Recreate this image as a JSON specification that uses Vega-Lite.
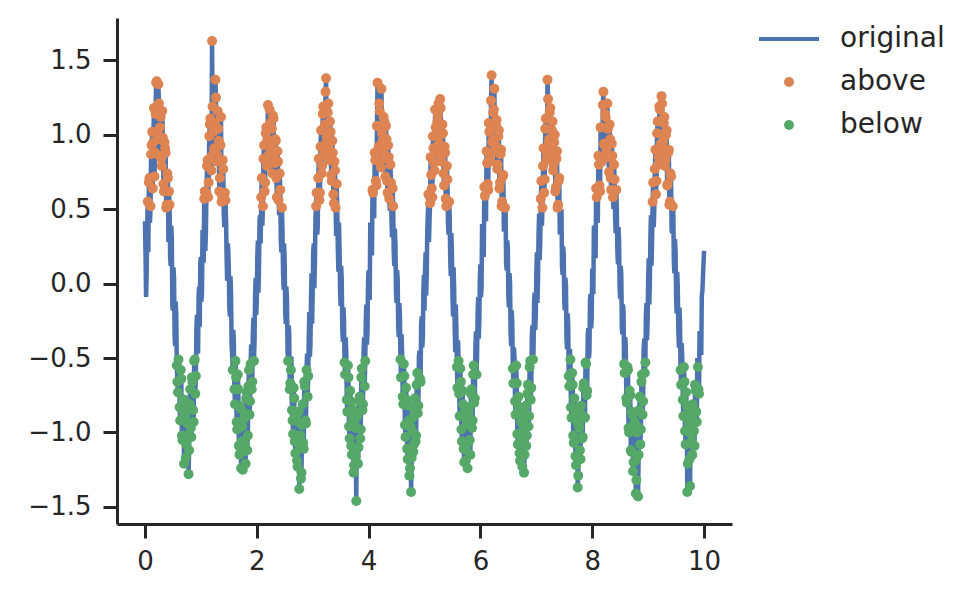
{
  "$schema": "https://vega.github.io/schema/vega-lite/v6.json",
  "width": 615,
  "height": 506,
  "autosize": "none",
  "padding": {"left": 117, "top": 18, "right": 243, "bottom": 74},
  "background": "white",
  "data": {"values": [
    {"x":0,"y":0.42},{"x":0.02,"y":-0.09},{"x":0.04,"y":0.38},{"x":0.06,"y":0.21},{"x":0.08,"y":0.71},{"x":0.1,"y":0.52},{"x":0.12,"y":0.93},{"x":0.14,"y":0.64},{"x":0.16,"y":1.18},{"x":0.18,"y":0.88},
    {"x":0.2,"y":1.35},{"x":0.22,"y":1.02},{"x":0.24,"y":1.34},{"x":0.26,"y":0.86},{"x":0.28,"y":1.12},{"x":0.3,"y":0.79},{"x":0.32,"y":0.98},{"x":0.34,"y":0.62},{"x":0.36,"y":0.91},{"x":0.38,"y":0.51},
    {"x":0.4,"y":0.74},{"x":0.42,"y":0.28},{"x":0.44,"y":0.53},{"x":0.46,"y":0.12},{"x":0.48,"y":0.31},{"x":0.5,"y":-0.18},{"x":0.52,"y":0.04},{"x":0.54,"y":-0.42},{"x":0.56,"y":-0.21},{"x":0.58,"y":-0.66},
    {"x":0.6,"y":-0.51},{"x":0.62,"y":-0.83},{"x":0.64,"y":-0.58},{"x":0.66,"y":-1.02},{"x":0.68,"y":-0.78},{"x":0.7,"y":-1.21},{"x":0.72,"y":-0.89},{"x":0.74,"y":-1.08},{"x":0.76,"y":-0.94},{"x":0.78,"y":-1.28},
    {"x":0.8,"y":-0.81},{"x":0.82,"y":-0.97},{"x":0.84,"y":-0.63},{"x":0.86,"y":-0.85},{"x":0.88,"y":-0.52},{"x":0.9,"y":-0.74},{"x":0.92,"y":-0.31},{"x":0.94,"y":-0.45},{"x":0.96,"y":-0.08},{"x":0.98,"y":-0.29},
    {"x":1,"y":0.18},{"x":1.02,"y":-0.05},{"x":1.04,"y":0.31},{"x":1.06,"y":0.57},{"x":1.08,"y":0.22},{"x":1.1,"y":0.61},{"x":1.12,"y":0.83},{"x":1.14,"y":0.68},{"x":1.16,"y":1.07},{"x":1.18,"y":0.85},
    {"x":1.2,"y":1.63},{"x":1.22,"y":1.02},{"x":1.24,"y":0.91},{"x":1.26,"y":1.37},{"x":1.28,"y":0.82},{"x":1.3,"y":1.16},{"x":1.32,"y":0.96},{"x":1.34,"y":0.71},{"x":1.36,"y":1.12},{"x":1.38,"y":0.59},
    {"x":1.4,"y":0.77},{"x":1.42,"y":0.38},{"x":1.44,"y":0.56},{"x":1.46,"y":0.19},{"x":1.48,"y":0.27},{"x":1.5,"y":0.09},{"x":1.52,"y":-0.22},{"x":1.54,"y":-0.07},{"x":1.56,"y":-0.48},{"x":1.58,"y":-0.31},
    {"x":1.6,"y":-0.71},{"x":1.62,"y":-0.52},{"x":1.64,"y":-0.93},{"x":1.66,"y":-0.61},{"x":1.68,"y":-1.09},{"x":1.7,"y":-0.82},{"x":1.72,"y":-1.24},{"x":1.74,"y":-0.96},{"x":1.76,"y":-1.13},{"x":1.78,"y":-0.87},
    {"x":1.8,"y":-1.21},{"x":1.82,"y":-0.73},{"x":1.84,"y":-1.02},{"x":1.86,"y":-0.58},{"x":1.88,"y":-0.79},{"x":1.9,"y":-0.41},{"x":1.92,"y":-0.66},{"x":1.94,"y":-0.23},{"x":1.96,"y":-0.38},{"x":1.98,"y":0.04},
    {"x":2,"y":-0.12},{"x":2.02,"y":0.29},{"x":2.04,"y":0.11},{"x":2.06,"y":0.46},{"x":2.08,"y":0.58},{"x":2.1,"y":0.39},{"x":2.12,"y":0.84},{"x":2.14,"y":0.62},{"x":2.16,"y":1.01},{"x":2.18,"y":0.79},
    {"x":2.2,"y":1.2},{"x":2.22,"y":0.87},{"x":2.24,"y":1.08},{"x":2.26,"y":0.93},{"x":2.28,"y":0.74},{"x":2.3,"y":1.11},{"x":2.32,"y":0.81},{"x":2.34,"y":0.96},{"x":2.36,"y":0.58},{"x":2.38,"y":0.82},
    {"x":2.4,"y":0.46},{"x":2.42,"y":0.63},{"x":2.44,"y":0.21},{"x":2.46,"y":0.35},{"x":2.48,"y":-0.04},{"x":2.5,"y":0.13},{"x":2.52,"y":-0.27},{"x":2.54,"y":-0.11},{"x":2.56,"y":-0.52},{"x":2.58,"y":-0.33},
    {"x":2.6,"y":-0.67},{"x":2.62,"y":-0.49},{"x":2.64,"y":-0.92},{"x":2.66,"y":-0.7},{"x":2.68,"y":-1.06},{"x":2.7,"y":-0.88},{"x":2.72,"y":-1.19},{"x":2.74,"y":-0.93},{"x":2.76,"y":-1.38},{"x":2.78,"y":-1.02},
    {"x":2.8,"y":-1.27},{"x":2.82,"y":-0.81},{"x":2.84,"y":-1.11},{"x":2.86,"y":-0.69},{"x":2.88,"y":-0.94},{"x":2.9,"y":-0.47},{"x":2.92,"y":-0.62},{"x":2.94,"y":-0.19},{"x":2.96,"y":-0.41},{"x":2.98,"y":0.07},
    {"x":3,"y":-0.06},{"x":3.02,"y":0.27},{"x":3.04,"y":0.14},{"x":3.06,"y":0.52},{"x":3.08,"y":0.33},{"x":3.1,"y":0.71},{"x":3.12,"y":0.56},{"x":3.14,"y":0.92},{"x":3.16,"y":0.74},{"x":3.18,"y":1.14},
    {"x":3.2,"y":0.87},{"x":3.22,"y":1.07},{"x":3.24,"y":1.38},{"x":3.26,"y":0.95},{"x":3.28,"y":1.21},{"x":3.3,"y":0.83},{"x":3.32,"y":1.02},{"x":3.34,"y":0.69},{"x":3.36,"y":0.88},{"x":3.38,"y":0.54},
    {"x":3.4,"y":0.76},{"x":3.42,"y":0.32},{"x":3.44,"y":0.49},{"x":3.46,"y":0.08},{"x":3.48,"y":0.24},{"x":3.5,"y":-0.15},{"x":3.52,"y":0.02},{"x":3.54,"y":-0.39},{"x":3.56,"y":-0.24},{"x":3.58,"y":-0.61},
    {"x":3.6,"y":-0.45},{"x":3.62,"y":-0.86},{"x":3.64,"y":-0.63},{"x":3.66,"y":-1.04},{"x":3.68,"y":-0.79},{"x":3.7,"y":-1.15},{"x":3.72,"y":-0.91},{"x":3.74,"y":-1.22},{"x":3.76,"y":-0.97},{"x":3.78,"y":-1.46},
    {"x":3.8,"y":-0.89},{"x":3.82,"y":-1.1},{"x":3.84,"y":-0.76},{"x":3.86,"y":-0.98},{"x":3.88,"y":-0.57},{"x":3.9,"y":-0.81},{"x":3.92,"y":-0.36},{"x":3.94,"y":-0.52},{"x":3.96,"y":-0.14},{"x":3.98,"y":-0.33},
    {"x":4,"y":0.09},{"x":4.02,"y":-0.11},{"x":4.04,"y":0.32},{"x":4.06,"y":0.19},{"x":4.08,"y":0.61},{"x":4.1,"y":0.44},{"x":4.12,"y":0.83},{"x":4.14,"y":0.66},{"x":4.16,"y":1.35},{"x":4.18,"y":0.92},
    {"x":4.2,"y":1.16},{"x":4.22,"y":0.78},{"x":4.24,"y":1.01},{"x":4.26,"y":0.84},{"x":4.28,"y":1.09},{"x":4.3,"y":0.72},{"x":4.32,"y":0.97},{"x":4.34,"y":0.61},{"x":4.36,"y":0.85},{"x":4.38,"y":0.49},
    {"x":4.4,"y":0.68},{"x":4.42,"y":0.31},{"x":4.44,"y":0.52},{"x":4.46,"y":0.12},{"x":4.48,"y":0.26},{"x":4.5,"y":-0.13},{"x":4.52,"y":0.03},{"x":4.54,"y":-0.36},{"x":4.56,"y":-0.21},{"x":4.58,"y":-0.63},
    {"x":4.6,"y":-0.47},{"x":4.62,"y":-0.81},{"x":4.64,"y":-0.62},{"x":4.66,"y":-1.03},{"x":4.68,"y":-0.78},{"x":4.7,"y":-1.18},{"x":4.72,"y":-0.92},{"x":4.74,"y":-1.24},{"x":4.76,"y":-1.4},{"x":4.78,"y":-0.99},
    {"x":4.8,"y":-1.13},{"x":4.82,"y":-0.84},{"x":4.84,"y":-1.06},{"x":4.86,"y":-0.68},{"x":4.88,"y":-0.87},{"x":4.9,"y":-0.49},{"x":4.92,"y":-0.64},{"x":4.94,"y":-0.27},{"x":4.96,"y":-0.43},{"x":4.98,"y":-0.05},
    {"x":5,"y":-0.18},{"x":5.02,"y":0.21},{"x":5.04,"y":0.06},{"x":5.06,"y":0.47},{"x":5.08,"y":0.28},{"x":5.1,"y":0.54},{"x":5.12,"y":0.73},{"x":5.14,"y":0.58},{"x":5.16,"y":0.91},{"x":5.18,"y":0.76},
    {"x":5.2,"y":1.05},{"x":5.22,"y":0.88},{"x":5.24,"y":1.13},{"x":5.26,"y":0.94},{"x":5.28,"y":1.24},{"x":5.3,"y":0.86},{"x":5.32,"y":1.07},{"x":5.34,"y":0.74},{"x":5.36,"y":0.92},{"x":5.38,"y":0.57},
    {"x":5.4,"y":0.79},{"x":5.42,"y":0.41},{"x":5.44,"y":0.55},{"x":5.46,"y":0.17},{"x":5.48,"y":0.34},{"x":5.5,"y":-0.06},{"x":5.52,"y":0.11},{"x":5.54,"y":-0.29},{"x":5.56,"y":-0.14},{"x":5.58,"y":-0.56},
    {"x":5.6,"y":-0.38},{"x":5.62,"y":-0.74},{"x":5.64,"y":-0.57},{"x":5.66,"y":-0.98},{"x":5.68,"y":-0.72},{"x":5.7,"y":-1.11},{"x":5.72,"y":-0.86},{"x":5.74,"y":-1.19},{"x":5.76,"y":-0.94},{"x":5.78,"y":-1.07},
    {"x":5.8,"y":-0.83},{"x":5.82,"y":-1.15},{"x":5.84,"y":-0.71},{"x":5.86,"y":-0.92},{"x":5.88,"y":-0.55},{"x":5.9,"y":-0.77},{"x":5.92,"y":-0.32},{"x":5.94,"y":-0.49},{"x":5.96,"y":-0.09},{"x":5.98,"y":-0.26},
    {"x":6,"y":0.13},{"x":6.02,"y":-0.04},{"x":6.04,"y":0.36},{"x":6.06,"y":0.18},{"x":6.08,"y":0.59},{"x":6.1,"y":0.42},{"x":6.12,"y":0.81},{"x":6.14,"y":0.63},{"x":6.16,"y":1.02},{"x":6.18,"y":0.82},
    {"x":6.2,"y":1.4},{"x":6.22,"y":0.96},{"x":6.24,"y":1.17},{"x":6.26,"y":0.89},{"x":6.28,"y":1.06},{"x":6.3,"y":0.77},{"x":6.32,"y":0.99},{"x":6.34,"y":0.64},{"x":6.36,"y":0.87},{"x":6.38,"y":0.52},
    {"x":6.4,"y":0.72},{"x":6.42,"y":0.35},{"x":6.44,"y":0.51},{"x":6.46,"y":0.14},{"x":6.48,"y":0.29},{"x":6.5,"y":-0.09},{"x":6.52,"y":0.07},{"x":6.54,"y":-0.33},{"x":6.56,"y":-0.18},{"x":6.58,"y":-0.57},
    {"x":6.6,"y":-0.43},{"x":6.62,"y":-0.79},{"x":6.64,"y":-0.55},{"x":6.66,"y":-1.01},{"x":6.68,"y":-0.76},{"x":6.7,"y":-1.14},{"x":6.72,"y":-0.88},{"x":6.74,"y":-1.05},{"x":6.76,"y":-0.91},{"x":6.78,"y":-1.27},
    {"x":6.8,"y":-0.87},{"x":6.82,"y":-1.09},{"x":6.84,"y":-0.74},{"x":6.86,"y":-0.96},{"x":6.88,"y":-0.56},{"x":6.9,"y":-0.78},{"x":6.92,"y":-0.35},{"x":6.94,"y":-0.51},{"x":6.96,"y":-0.12},{"x":6.98,"y":-0.31},
    {"x":7,"y":0.06},{"x":7.02,"y":-0.13},{"x":7.04,"y":0.33},{"x":7.06,"y":0.16},{"x":7.08,"y":0.57},{"x":7.1,"y":0.39},{"x":7.12,"y":0.79},{"x":7.14,"y":0.61},{"x":7.16,"y":1.04},{"x":7.18,"y":0.83},
    {"x":7.2,"y":1.37},{"x":7.22,"y":0.94},{"x":7.24,"y":1.15},{"x":7.26,"y":0.87},{"x":7.28,"y":1.03},{"x":7.3,"y":0.76},{"x":7.32,"y":0.95},{"x":7.34,"y":0.62},{"x":7.36,"y":0.84},{"x":7.38,"y":0.51},
    {"x":7.4,"y":0.69},{"x":7.42,"y":0.33},{"x":7.44,"y":0.48},{"x":7.46,"y":0.11},{"x":7.48,"y":0.25},{"x":7.5,"y":-0.12},{"x":7.52,"y":0.04},{"x":7.54,"y":-0.37},{"x":7.56,"y":-0.2},{"x":7.58,"y":-0.62},
    {"x":7.6,"y":-0.44},{"x":7.62,"y":-0.83},{"x":7.64,"y":-0.6},{"x":7.66,"y":-1.02},{"x":7.68,"y":-0.77},{"x":7.7,"y":-1.16},{"x":7.72,"y":-0.9},{"x":7.74,"y":-1.37},{"x":7.76,"y":-0.95},{"x":7.78,"y":-1.12},
    {"x":7.8,"y":-0.82},{"x":7.82,"y":-1.04},{"x":7.84,"y":-0.7},{"x":7.86,"y":-0.9},{"x":7.88,"y":-0.53},{"x":7.9,"y":-0.75},{"x":7.92,"y":-0.34},{"x":7.94,"y":-0.5},{"x":7.96,"y":-0.11},{"x":7.98,"y":-0.3},
    {"x":8,"y":0.1},{"x":8.02,"y":-0.07},{"x":8.04,"y":0.34},{"x":8.06,"y":0.17},{"x":8.08,"y":0.58},{"x":8.1,"y":0.41},{"x":8.12,"y":0.8},{"x":8.14,"y":0.62},{"x":8.16,"y":1.05},{"x":8.18,"y":0.85},
    {"x":8.2,"y":1.29},{"x":8.22,"y":0.93},{"x":8.24,"y":1.12},{"x":8.26,"y":0.88},{"x":8.28,"y":1.04},{"x":8.3,"y":0.75},{"x":8.32,"y":0.97},{"x":8.34,"y":0.63},{"x":8.36,"y":0.86},{"x":8.38,"y":0.5},
    {"x":8.4,"y":0.7},{"x":8.42,"y":0.34},{"x":8.44,"y":0.5},{"x":8.46,"y":0.13},{"x":8.48,"y":0.28},{"x":8.5,"y":-0.1},{"x":8.52,"y":0.06},{"x":8.54,"y":-0.34},{"x":8.56,"y":-0.19},{"x":8.58,"y":-0.6},
    {"x":8.6,"y":-0.42},{"x":8.62,"y":-0.8},{"x":8.64,"y":-0.58},{"x":8.66,"y":-1},{"x":8.68,"y":-0.75},{"x":8.7,"y":-1.13},{"x":8.72,"y":-0.88},{"x":8.74,"y":-1.2},{"x":8.76,"y":-0.93},{"x":8.78,"y":-1.41},
    {"x":8.8,"y":-1},{"x":8.82,"y":-1.43},{"x":8.84,"y":-0.85},{"x":8.86,"y":-1.08},{"x":8.88,"y":-0.66},{"x":8.9,"y":-0.88},{"x":8.92,"y":-0.44},{"x":8.94,"y":-0.6},{"x":8.96,"y":-0.21},{"x":8.98,"y":-0.38},
    {"x":9,"y":0.02},{"x":9.02,"y":-0.14},{"x":9.04,"y":0.3},{"x":9.06,"y":0.12},{"x":9.08,"y":0.55},{"x":9.1,"y":0.38},{"x":9.12,"y":0.77},{"x":9.14,"y":0.6},{"x":9.16,"y":1.01},{"x":9.18,"y":0.8},
    {"x":9.2,"y":1.19},{"x":9.22,"y":0.89},{"x":9.24,"y":1.26},{"x":9.26,"y":0.92},{"x":9.28,"y":1.08},{"x":9.3,"y":0.79},{"x":9.32,"y":1},{"x":9.34,"y":0.66},{"x":9.36,"y":0.88},{"x":9.38,"y":0.53},
    {"x":9.4,"y":0.74},{"x":9.42,"y":0.36},{"x":9.44,"y":0.52},{"x":9.46,"y":0.15},{"x":9.48,"y":0.3},{"x":9.5,"y":-0.08},{"x":9.52,"y":0.08},{"x":9.54,"y":-0.31},{"x":9.56,"y":-0.16},{"x":9.58,"y":-0.58},
    {"x":9.6,"y":-0.4},{"x":9.62,"y":-0.78},{"x":9.64,"y":-0.56},{"x":9.66,"y":-0.99},{"x":9.68,"y":-0.73},{"x":9.7,"y":-1.4},{"x":9.72,"y":-0.87},{"x":9.74,"y":-1.18},{"x":9.76,"y":-0.92},{"x":9.78,"y":-1.06},
    {"x":9.8,"y":-0.81},{"x":9.82,"y":-0.99},{"x":9.84,"y":-0.68},{"x":9.86,"y":-0.86},{"x":9.88,"y":-0.5},{"x":9.9,"y":-0.71},{"x":9.92,"y":-0.32},{"x":9.94,"y":-0.46},{"x":9.96,"y":-0.08},{"x":9.98,"y":0.04},
    {"x":10,"y":0.22},
    {"x":0.01,"y":0.21},{"x":0.03,"y":0.05},{"x":0.05,"y":0.55},{"x":0.07,"y":0.68},{"x":0.09,"y":0.41},{"x":0.11,"y":0.87},{"x":0.13,"y":1.02},{"x":0.15,"y":0.95},{"x":0.17,"y":0.72},{"x":0.19,"y":1.14},
    {"x":0.21,"y":1.36},{"x":0.23,"y":0.97},{"x":0.25,"y":1.21},{"x":0.27,"y":1.05},{"x":0.29,"y":0.84},{"x":0.31,"y":1.16},{"x":0.33,"y":0.67},{"x":0.35,"y":0.95},{"x":0.37,"y":0.88},{"x":0.39,"y":0.53},
    {"x":0.41,"y":0.71},{"x":0.43,"y":0.62},{"x":0.45,"y":0.18},{"x":0.47,"y":0.39},{"x":0.49,"y":-0.15},{"x":0.51,"y":0.11},{"x":0.53,"y":-0.34},{"x":0.55,"y":-0.12},{"x":0.57,"y":-0.55},{"x":0.59,"y":-0.73},
    {"x":0.61,"y":-0.49},{"x":0.63,"y":-0.92},{"x":0.65,"y":-0.64},{"x":0.67,"y":-1.05},{"x":0.69,"y":-0.86},{"x":0.71,"y":-0.78},{"x":0.73,"y":-1.17},{"x":0.75,"y":-0.83},{"x":0.77,"y":-1.02},{"x":0.79,"y":-1.12},
    {"x":0.81,"y":-0.71},{"x":0.83,"y":-1.03},{"x":0.85,"y":-0.66},{"x":0.87,"y":-0.93},{"x":0.89,"y":-0.51},{"x":0.91,"y":-0.62},{"x":0.93,"y":-0.21},{"x":0.95,"y":-0.47},{"x":0.97,"y":-0.02},{"x":0.99,"y":0.14},
    {"x":1.01,"y":-0.12},{"x":1.03,"y":0.36},{"x":1.05,"y":0.14},{"x":1.07,"y":0.62},{"x":1.09,"y":0.35},{"x":1.11,"y":0.79},{"x":1.13,"y":0.58},{"x":1.15,"y":0.99},{"x":1.17,"y":1.11},{"x":1.19,"y":0.76},
    {"x":1.21,"y":1.19},{"x":1.23,"y":0.88},{"x":1.25,"y":1.08},{"x":1.27,"y":1.25},{"x":1.29,"y":0.87},{"x":1.31,"y":1.04},{"x":1.33,"y":0.62},{"x":1.35,"y":0.93},{"x":1.37,"y":0.55},{"x":1.39,"y":0.83},
    {"x":1.41,"y":0.47},{"x":1.43,"y":0.61},{"x":1.45,"y":0.44},{"x":1.47,"y":0.02},{"x":1.49,"y":0.23},{"x":1.51,"y":-0.17},{"x":1.53,"y":0.05},{"x":1.55,"y":-0.41},{"x":1.57,"y":-0.58},{"x":1.59,"y":-0.39},
    {"x":1.61,"y":-0.81},{"x":1.63,"y":-0.63},{"x":1.65,"y":-0.98},{"x":1.67,"y":-0.71},{"x":1.69,"y":-1.15},{"x":1.71,"y":-0.84},{"x":1.73,"y":-1.06},{"x":1.75,"y":-1.25},{"x":1.77,"y":-0.91},{"x":1.79,"y":-1.08},
    {"x":1.81,"y":-0.77},{"x":1.83,"y":-1.12},{"x":1.85,"y":-0.69},{"x":1.87,"y":-0.88},{"x":1.89,"y":-0.54},{"x":1.91,"y":-0.71},{"x":1.93,"y":-0.33},{"x":1.95,"y":-0.52},{"x":1.97,"y":-0.08},{"x":1.99,"y":-0.21},
    {"x":2.01,"y":0.19},{"x":2.03,"y":-0.06},{"x":2.05,"y":0.43},{"x":2.07,"y":0.27},{"x":2.09,"y":0.71},{"x":2.11,"y":0.52},{"x":2.13,"y":0.93},{"x":2.15,"y":0.68},{"x":2.17,"y":1.05},{"x":2.19,"y":0.97},
    {"x":2.21,"y":0.81},{"x":2.23,"y":1.17},{"x":2.25,"y":0.92},{"x":2.27,"y":1.04},{"x":2.29,"y":1.13},{"x":2.31,"y":0.86},{"x":2.33,"y":0.97},{"x":2.35,"y":0.71},{"x":2.37,"y":0.89},{"x":2.39,"y":0.56},
    {"x":2.41,"y":0.74},{"x":2.43,"y":0.29},{"x":2.45,"y":0.51},{"x":2.47,"y":0.08},{"x":2.49,"y":0.27},{"x":2.51,"y":-0.21},{"x":2.53,"y":-0.02},{"x":2.55,"y":-0.45},{"x":2.57,"y":-0.28},{"x":2.59,"y":-0.71},
    {"x":2.61,"y":-0.58},{"x":2.63,"y":-0.85},{"x":2.65,"y":-1.01},{"x":2.67,"y":-0.77},{"x":2.69,"y":-1.14},{"x":2.71,"y":-0.91},{"x":2.73,"y":-1.23},{"x":2.75,"y":-0.86},{"x":2.77,"y":-1.09},{"x":2.79,"y":-1.31},
    {"x":2.81,"y":-0.95},{"x":2.83,"y":-1.07},{"x":2.85,"y":-0.66},{"x":2.87,"y":-0.92},{"x":2.89,"y":-0.58},{"x":2.91,"y":-0.76},{"x":2.93,"y":-0.36},{"x":2.95,"y":-0.49},{"x":2.97,"y":-0.1},{"x":2.99,"y":-0.27},
    {"x":3.01,"y":0.22},{"x":3.03,"y":-0.03},{"x":3.05,"y":0.45},{"x":3.07,"y":0.61},{"x":3.09,"y":0.38},{"x":3.11,"y":0.84},{"x":3.13,"y":0.61},{"x":3.15,"y":1.03},{"x":3.17,"y":0.79},{"x":3.19,"y":1.19},
    {"x":3.21,"y":0.93},{"x":3.23,"y":1.29},{"x":3.25,"y":0.98},{"x":3.27,"y":1.15},{"x":3.29,"y":0.91},{"x":3.31,"y":1.09},{"x":3.33,"y":0.73},{"x":3.35,"y":0.96},{"x":3.37,"y":0.6},{"x":3.39,"y":0.82},
    {"x":3.41,"y":0.51},{"x":3.43,"y":0.67},{"x":3.45,"y":0.24},{"x":3.47,"y":0.41},{"x":3.49,"y":-0.04},{"x":3.51,"y":0.12},{"x":3.53,"y":-0.31},{"x":3.55,"y":-0.16},{"x":3.57,"y":-0.53},{"x":3.59,"y":-0.36},
    {"x":3.61,"y":-0.78},{"x":3.63,"y":-0.55},{"x":3.65,"y":-0.96},{"x":3.67,"y":-0.72},{"x":3.69,"y":-1.09},{"x":3.71,"y":-0.84},{"x":3.73,"y":-1.27},{"x":3.75,"y":-0.93},{"x":3.77,"y":-1.16},{"x":3.79,"y":-0.88},
    {"x":3.81,"y":-1.21},{"x":3.83,"y":-0.79},{"x":3.85,"y":-1.04},{"x":3.87,"y":-0.63},{"x":3.89,"y":-0.85},{"x":3.91,"y":-0.47},{"x":3.93,"y":-0.69},{"x":3.95,"y":-0.25},{"x":3.97,"y":-0.41},{"x":3.99,"y":0.01},
    {"x":4.01,"y":-0.07},{"x":4.03,"y":0.41},{"x":4.05,"y":0.24},{"x":4.07,"y":0.63},{"x":4.09,"y":0.47},{"x":4.11,"y":0.88},{"x":4.13,"y":0.69},{"x":4.15,"y":1.06},{"x":4.17,"y":0.83},{"x":4.19,"y":1.21},
    {"x":4.21,"y":0.91},{"x":4.23,"y":1.31},{"x":4.25,"y":0.96},{"x":4.27,"y":1.12},{"x":4.29,"y":0.87},{"x":4.31,"y":1.06},{"x":4.33,"y":0.69},{"x":4.35,"y":0.93},{"x":4.37,"y":0.57},{"x":4.39,"y":0.8},
    {"x":4.41,"y":0.43},{"x":4.43,"y":0.64},{"x":4.45,"y":0.21},{"x":4.47,"y":0.37},{"x":4.49,"y":-0.06},{"x":4.51,"y":0.09},{"x":4.53,"y":-0.29},{"x":4.55,"y":-0.13},{"x":4.57,"y":-0.51},{"x":4.59,"y":-0.34},
    {"x":4.61,"y":-0.76},{"x":4.63,"y":-0.54},{"x":4.65,"y":-0.95},{"x":4.67,"y":-0.7},{"x":4.69,"y":-1.11},{"x":4.71,"y":-0.82},{"x":4.73,"y":-1.29},{"x":4.75,"y":-0.96},{"x":4.77,"y":-1.17},{"x":4.79,"y":-0.9},
    {"x":4.81,"y":-1.08},{"x":4.83,"y":-0.77},{"x":4.85,"y":-1.02},{"x":4.87,"y":-0.6},{"x":4.89,"y":-0.82},{"x":4.91,"y":-0.45},{"x":4.93,"y":-0.66},{"x":4.95,"y":-0.22},{"x":4.97,"y":-0.36},{"x":4.99,"y":0.06},
    {"x":5.01,"y":0.09},{"x":5.03,"y":-0.08},{"x":5.05,"y":0.37},{"x":5.07,"y":0.6},{"x":5.09,"y":0.43},{"x":5.11,"y":0.85},{"x":5.13,"y":0.64},{"x":5.15,"y":0.99},{"x":5.17,"y":0.81},{"x":5.19,"y":1.17},
    {"x":5.21,"y":0.9},{"x":5.23,"y":1.09},{"x":5.25,"y":1.21},{"x":5.27,"y":0.99},{"x":5.29,"y":1.18},{"x":5.31,"y":0.82},{"x":5.33,"y":1.01},{"x":5.35,"y":0.66},{"x":5.37,"y":0.88},{"x":5.39,"y":0.52},
    {"x":5.41,"y":0.7},{"x":5.43,"y":0.33},{"x":5.45,"y":0.47},{"x":5.47,"y":0.05},{"x":5.49,"y":0.21},{"x":5.51,"y":-0.22},{"x":5.53,"y":-0.03},{"x":5.55,"y":-0.46},{"x":5.57,"y":-0.3},{"x":5.59,"y":-0.7},
    {"x":5.61,"y":-0.52},{"x":5.63,"y":-0.89},{"x":5.65,"y":-0.66},{"x":5.67,"y":-1.06},{"x":5.69,"y":-0.81},{"x":5.71,"y":-1.2},{"x":5.73,"y":-0.9},{"x":5.75,"y":-1.12},{"x":5.77,"y":-1.24},{"x":5.79,"y":-0.87},
    {"x":5.81,"y":-1.05},{"x":5.83,"y":-0.74},{"x":5.85,"y":-0.97},{"x":5.87,"y":-0.61},{"x":5.89,"y":-0.8},{"x":5.91,"y":-0.44},{"x":5.93,"y":-0.61},{"x":5.95,"y":-0.2},{"x":5.97,"y":-0.37},{"x":5.99,"y":0.03},
    {"x":6.01,"y":-0.09},{"x":6.03,"y":0.4},{"x":6.05,"y":0.22},{"x":6.07,"y":0.65},{"x":6.09,"y":0.48},{"x":6.11,"y":0.89},{"x":6.13,"y":0.67},{"x":6.15,"y":1.08},{"x":6.17,"y":0.84},{"x":6.19,"y":1.23},
    {"x":6.21,"y":0.95},{"x":6.23,"y":1.15},{"x":6.25,"y":1.31},{"x":6.27,"y":0.93},{"x":6.29,"y":1.1},{"x":6.31,"y":0.8},{"x":6.33,"y":1.03},{"x":6.35,"y":0.68},{"x":6.37,"y":0.9},{"x":6.39,"y":0.55},
    {"x":6.41,"y":0.73},{"x":6.43,"y":0.36},{"x":6.45,"y":0.5},{"x":6.47,"y":0.09},{"x":6.49,"y":0.24},{"x":6.51,"y":-0.16},{"x":6.53,"y":0.01},{"x":6.55,"y":-0.42},{"x":6.57,"y":-0.26},{"x":6.59,"y":-0.67},
    {"x":6.61,"y":-0.5},{"x":6.63,"y":-0.88},{"x":6.65,"y":-0.67},{"x":6.67,"y":-1.08},{"x":6.69,"y":-0.83},{"x":6.71,"y":-1.19},{"x":6.73,"y":-0.93},{"x":6.75,"y":-1.23},{"x":6.77,"y":-0.98},{"x":6.79,"y":-1.15},
    {"x":6.81,"y":-0.82},{"x":6.83,"y":-1.02},{"x":6.85,"y":-0.68},{"x":6.87,"y":-0.89},{"x":6.89,"y":-0.52},{"x":6.91,"y":-0.7},{"x":6.93,"y":-0.28},{"x":6.95,"y":-0.45},{"x":6.97,"y":-0.06},{"x":6.99,"y":-0.22},
    {"x":7.01,"y":0.21},{"x":7.03,"y":0.03},{"x":7.05,"y":0.47},{"x":7.07,"y":0.28},{"x":7.09,"y":0.69},{"x":7.11,"y":0.51},{"x":7.13,"y":0.91},{"x":7.15,"y":0.7},{"x":7.17,"y":1.11},{"x":7.19,"y":0.86},
    {"x":7.21,"y":1.24},{"x":7.23,"y":0.97},{"x":7.25,"y":1.18},{"x":7.27,"y":0.92},{"x":7.29,"y":1.09},{"x":7.31,"y":0.8},{"x":7.33,"y":1},{"x":7.35,"y":0.65},{"x":7.37,"y":0.89},{"x":7.39,"y":0.53},
    {"x":7.41,"y":0.71},{"x":7.43,"y":0.36},{"x":7.45,"y":0.5},{"x":7.47,"y":0.06},{"x":7.49,"y":0.2},{"x":7.51,"y":-0.18},{"x":7.53,"y":-0.01},{"x":7.55,"y":-0.44},{"x":7.57,"y":-0.27},{"x":7.59,"y":-0.69},
    {"x":7.61,"y":-0.51},{"x":7.63,"y":-0.9},{"x":7.65,"y":-0.68},{"x":7.67,"y":-1.07},{"x":7.69,"y":-0.84},{"x":7.71,"y":-1.22},{"x":7.73,"y":-0.93},{"x":7.75,"y":-1.29},{"x":7.77,"y":-0.97},{"x":7.79,"y":-1.18},
    {"x":7.81,"y":-0.88},{"x":7.83,"y":-1.03},{"x":7.85,"y":-0.67},{"x":7.87,"y":-0.9},{"x":7.89,"y":-0.54},{"x":7.91,"y":-0.72},{"x":7.93,"y":-0.3},{"x":7.95,"y":-0.46},{"x":7.97,"y":-0.07},{"x":7.99,"y":-0.24},
    {"x":8.01,"y":-0.05},{"x":8.03,"y":0.39},{"x":8.05,"y":0.21},{"x":8.07,"y":0.64},{"x":8.09,"y":0.46},{"x":8.11,"y":0.86},{"x":8.13,"y":0.66},{"x":8.15,"y":1.05},{"x":8.17,"y":0.82},{"x":8.19,"y":1.2},
    {"x":8.21,"y":0.94},{"x":8.23,"y":1.14},{"x":8.25,"y":0.91},{"x":8.27,"y":1.21},{"x":8.29,"y":0.85},{"x":8.31,"y":1.07},{"x":8.33,"y":0.71},{"x":8.35,"y":0.94},{"x":8.37,"y":0.58},{"x":8.39,"y":0.8},
    {"x":8.41,"y":0.44},{"x":8.43,"y":0.63},{"x":8.45,"y":0.22},{"x":8.47,"y":0.38},{"x":8.49,"y":-0.03},{"x":8.51,"y":0.12},{"x":8.53,"y":-0.3},{"x":8.55,"y":-0.14},{"x":8.57,"y":-0.54},{"x":8.59,"y":-0.36},
    {"x":8.61,"y":-0.77},{"x":8.63,"y":-0.56},{"x":8.65,"y":-0.97},{"x":8.67,"y":-0.72},{"x":8.69,"y":-1.12},{"x":8.71,"y":-0.86},{"x":8.73,"y":-1.26},{"x":8.75,"y":-0.94},{"x":8.77,"y":-1.19},{"x":8.79,"y":-1.32},
    {"x":8.81,"y":-0.96},{"x":8.83,"y":-1.15},{"x":8.85,"y":-0.76},{"x":8.87,"y":-0.98},{"x":8.89,"y":-0.61},{"x":8.91,"y":-0.79},{"x":8.93,"y":-0.37},{"x":8.95,"y":-0.53},{"x":8.97,"y":-0.13},{"x":8.99,"y":-0.27},
    {"x":9.01,"y":0.17},{"x":9.03,"y":-0.02},{"x":9.05,"y":0.46},{"x":9.07,"y":0.27},{"x":9.09,"y":0.68},{"x":9.11,"y":0.5},{"x":9.13,"y":0.9},{"x":9.15,"y":0.69},{"x":9.17,"y":1.09},{"x":9.19,"y":0.85},
    {"x":9.21,"y":1.17},{"x":9.23,"y":0.94},{"x":9.25,"y":1.21},{"x":9.27,"y":0.96},{"x":9.29,"y":1.12},{"x":9.31,"y":0.83},{"x":9.33,"y":1.03},{"x":9.35,"y":0.67},{"x":9.37,"y":0.9},{"x":9.39,"y":0.55},
    {"x":9.41,"y":0.72},{"x":9.43,"y":0.34},{"x":9.45,"y":0.49},{"x":9.47,"y":0.07},{"x":9.49,"y":0.22},{"x":9.51,"y":-0.2},{"x":9.53,"y":-0.02},{"x":9.55,"y":-0.43},{"x":9.57,"y":-0.26},{"x":9.59,"y":-0.68},
    {"x":9.61,"y":-0.5},{"x":9.63,"y":-0.89},{"x":9.65,"y":-0.66},{"x":9.67,"y":-1.08},{"x":9.69,"y":-0.82},{"x":9.71,"y":-1.21},{"x":9.73,"y":-0.94},{"x":9.75,"y":-1.36},{"x":9.77,"y":-1.01},{"x":9.79,"y":-1.15},
    {"x":9.81,"y":-0.87},{"x":9.83,"y":-1.09},{"x":9.85,"y":-0.72},{"x":9.87,"y":-0.93},{"x":9.89,"y":-0.56},{"x":9.91,"y":-0.74},{"x":9.93,"y":-0.33},{"x":9.95,"y":-0.48},{"x":9.97,"y":-0.05},{"x":9.99,"y":0.13}
  ]},
  "encoding": {
    "x": {"field": "x", "type": "quantitative", "scale": {"domain": [-0.5, 10.5], "nice": false, "zero": false},
      "axis": {"values": [0, 2, 4, 6, 8, 10], "format": "d", "title": null, "labelPadding": 10}},
    "y": {"field": "y", "type": "quantitative", "scale": {"domain": [-1.615, 1.785], "nice": false, "zero": false},
      "axis": {"values": [-1.5, -1, -0.5, 0, 0.5, 1, 1.5], "format": ".1f", "title": null, "labelPadding": 12}}
  },
  "layer": [
    {
      "mark": {"type": "line", "strokeWidth": 4.5, "clip": true},
      "encoding": {
        "order": {"field": "x", "type": "quantitative"},
        "color": {"datum": "original", "type": "nominal",
          "scale": {"domain": ["original", "above", "below"], "range": ["#4c72b0", "#dd8452", "#55a868"]},
          "legend": {
            "title": null,
            "orient": "none",
            "legendX": 658,
            "legendY": 7,
            "padding": 0,
            "symbolType": "circle",
            "symbolSize": 80,
            "labelOffset": 37,
            "rowPadding": 15,
            "labelFont": "DejaVu Sans",
            "labelFontSize": 28,
            "labelColor": "#262626",
            "encode": {
              "symbols": {"update": {
                "shape": {"signal": "datum.value === 'original' ? 'stroke' : 'circle'"},
                "size": {"signal": "datum.value === 'original' ? 3600 : 100"},
                "strokeWidth": {"signal": "datum.value === 'original' ? 4 : 0"},
                "stroke": {"signal": "scale('color', datum.value)"},
                "fill": {"signal": "scale('color', datum.value)"},
                "opacity": {"value": 1}
              }}
            }
          }}
      }
    },
    {
      "transform": [{"filter": "datum.y > 0.5"}],
      "mark": {"type": "point", "filled": true, "opacity": 1, "size": 100, "shape": "circle"},
      "encoding": {"color": {"datum": "above", "type": "nominal"}}
    },
    {
      "transform": [{"filter": "datum.y < -0.5"}],
      "mark": {"type": "point", "filled": true, "opacity": 1, "size": 100, "shape": "circle"},
      "encoding": {"color": {"datum": "below", "type": "nominal"}}
    }
  ],
  "config": {
    "view": {"stroke": null},
    "font": "DejaVu Sans",
    "axis": {
      "grid": false,
      "domainColor": "#262626",
      "domainWidth": 3,
      "tickColor": "#262626",
      "tickWidth": 3,
      "tickSize": 14,
      "labelFont": "DejaVu Sans",
      "labelFontSize": 26,
      "labelColor": "#262626"
    }
  }
}
